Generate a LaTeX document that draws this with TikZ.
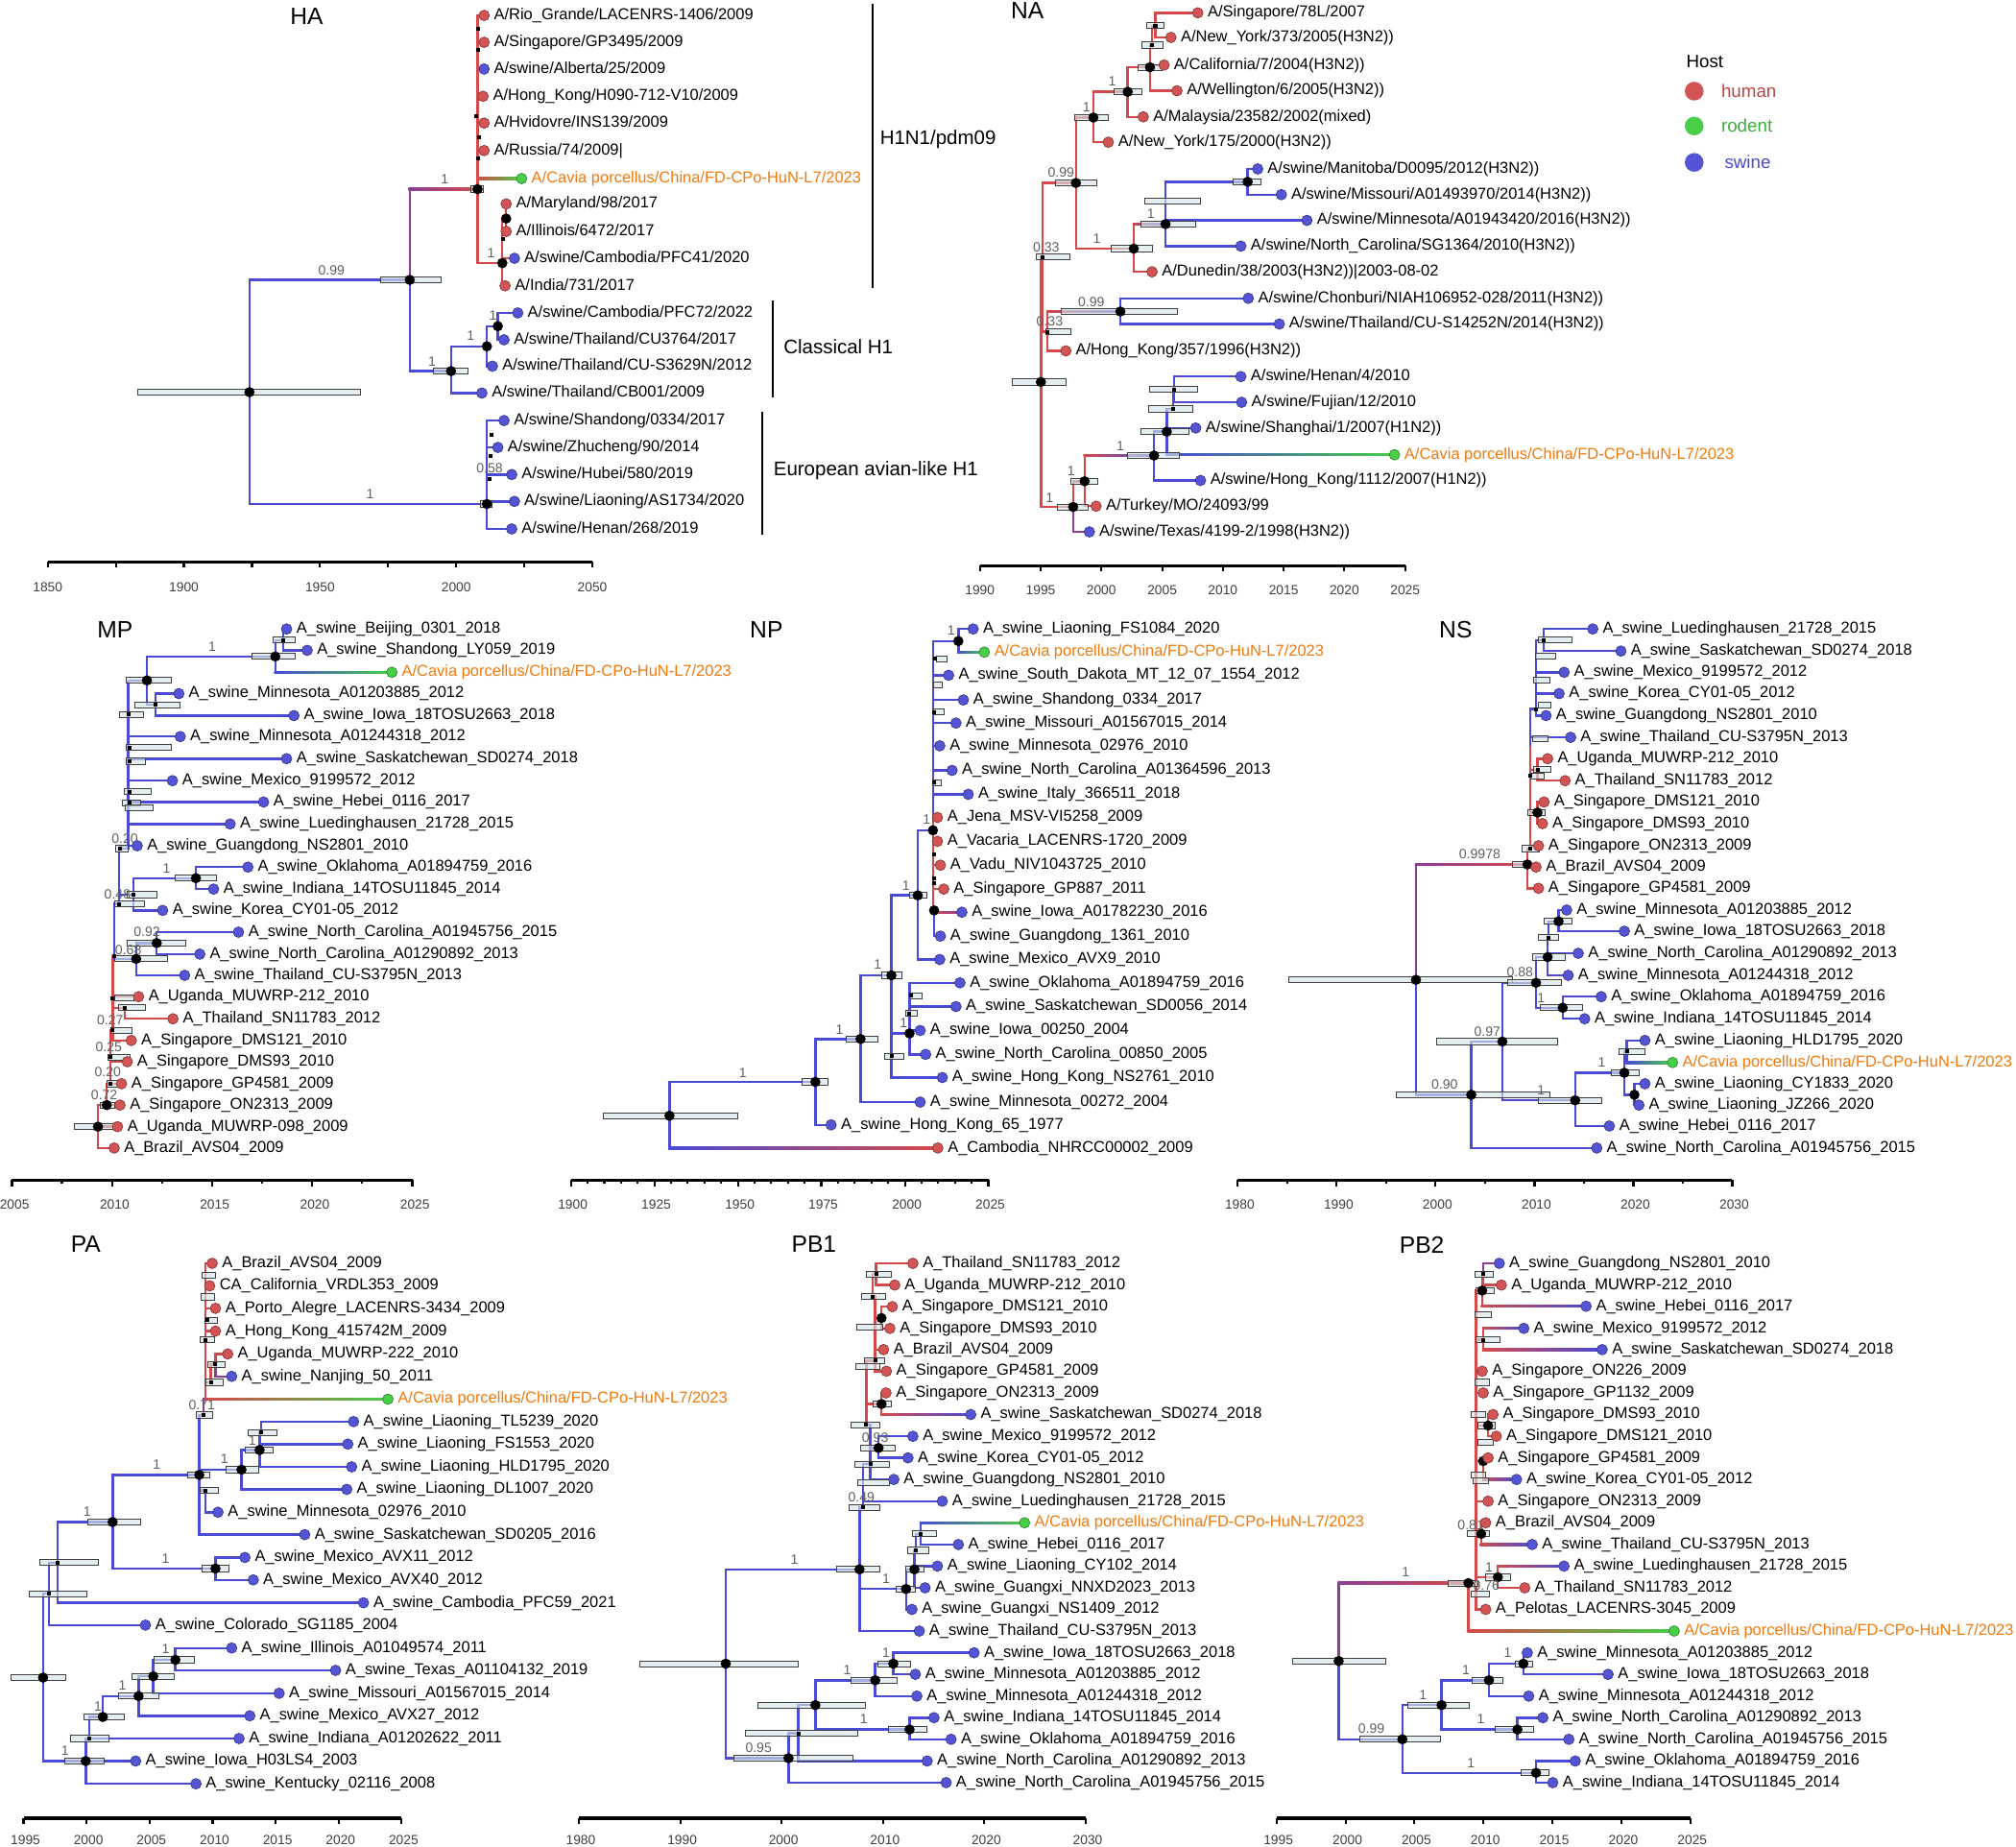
\documentclass[tikz,border=0pt]{standalone}
\usepackage{fontspec}
\setmainfont{Liberation Sans}
\usetikzlibrary{calc}
\pgfdeclarelayer{bg}
\pgfdeclarelayer{mid}
\pgfsetlayers{bg,mid,main}
\definecolor{cBl}{RGB}{74,74,212}
\definecolor{cRd}{RGB}{212,74,74}
\definecolor{cPu}{RGB}{140,62,150}
\definecolor{cGr}{RGB}{70,205,70}
\definecolor{dHu}{RGB}{210,84,84}
\definecolor{dSw}{RGB}{84,84,212}
\definecolor{dRo}{RGB}{72,206,72}
\definecolor{cOr}{RGB}{240,122,14}
\definecolor{cBar}{RGB}{214,228,232}
\newcommand\lfont{\fontsize{12.3}{14}\selectfont}
\newcommand\sfont{\fontsize{10.5}{12}\selectfont}
\newcommand\tfont{\fontsize{18.4}{20}\selectfont}
\newcommand\cfont{\fontsize{15.3}{17}\selectfont}
\newcommand\afont{\fontsize{10.3}{12}\selectfont}
\newcommand\gfont{\fontsize{14}{16}\selectfont}
\tikzset{
 blb/.style={draw=cBl,line width=1.8pt},
 rdb/.style={draw=cRd,line width=1.8pt},
 pub/.style={draw=cPu,line width=1.8pt},
 dotb/.style={circle,inner sep=0pt,minimum size=8.2pt,line width=0.5pt},
 hu/.style={dotb,fill=dHu,draw=dHu!65!black},
 sw/.style={dotb,fill=dSw,draw=dSw!65!black},
 ro/.style={dotb,fill=dRo,draw=dRo!65!black},
 lab/.style={anchor=base west,inner sep=0pt,xshift=3.2pt,yshift=-3.3pt,font=\lfont},
 bnd/.style={circle,fill=black,inner sep=0pt,minimum size=8pt},
 snd/.style={rectangle,fill=black,inner sep=0pt,minimum size=3pt},
 hpdb/.style={draw=black!75,line width=0.7pt,fill=cBar,fill opacity=0.65},
 svl/.style={font=\sfont,text=black!62,inner sep=0pt},
 ttl/.style={font=\tfont,inner sep=0pt},
 cll/.style={font=\cfont,inner sep=0pt,anchor=west},
 axl/.style={font=\afont,text=black!75,inner sep=0pt},
 clb/.style={draw=black,line width=1.5pt},
 axb/.style={draw=black,line width=2.6pt},
 axt/.style={draw=black,line width=1.6pt},
}
\makeatletter
\newcommand\bgadd[1]{\g@addto@macro\bgcmds{#1}}
\newcommand\midadd[1]{\g@addto@macro\midcmds{#1}}
\makeatother
\newcommand\bgcmds{\fill[white] (0,0) rectangle (1568,1436);}
\newcommand\midcmds{}
\newcommand\LF[4]{\node[#3] (#1) at (#2) {}; \node[lab] at (#1.east) {#4};}
\newcommand\LFC[2]{\node[ro] (#1) at (#2) {}; \node[lab,text=cOr] at (#1.east) {A/Cavia porcellus/China/FD-CPo-HuN-L7/2023};}
\newcommand\BN[2]{\coordinate (#1) at (#2); \node[bnd] at (#1) {};}
\newcommand\SN[2]{\coordinate (#1) at (#2); \node[snd] at (#1) {};}
\newcommand\CN[2]{\coordinate (#1) at (#2);}
\newcommand\BR[3]{\bgadd{\draw[#1] (#2) |- (#3.center);}}
\newcommand\HZ[3]{\bgadd{\draw[#1] (#2|-#3.center) -- (#3.center);}}
\newcommand\GB[4]{\bgadd{\draw[line width=1.8pt,#3] (#1) -- (#1|-#2.center); \shade[left color=#3,right color=#4] ($(#1|-#2.center)+(-0.9,-0.9)$) rectangle ($(#2.center)+(0,0.9)$);}}
\newcommand\HPD[3]{\midadd{\draw[hpdb] (#1,#3-2.3) rectangle (#2,#3+2.3);}}
\newcommand\SV[2]{\node[svl] at (#1) {#2};}
\begin{document}
\begin{tikzpicture}[x=1pt,y=-1pt]
\useasboundingbox (0,0) rectangle (1568,1436);
%================ HA
\node[ttl] (tHA) at (238.5,12.9) {HA};
\BN{ha0}{194,305} \HPD{107}{280}{305}
\BN{ha1}{318.7,217.7} \HPD{296}{343}{217.7} \SV{257.8,210}{0.99}
\BR{blb}{ha0}{ha1}
\BN{ha2}{371.4,147.1} \HPD{366}{376}{147.1} \SV{346,139}{1}
\GB{ha1}{ha2}{cPu}{cRd}
\LF{ha3}{376.5,12}{hu}{A/Rio\_Grande/LACENRS-1406/2009}
\LF{ha4}{376.5,32.9}{hu}{A/Singapore/GP3495/2009}
\LF{ha5}{376.5,53.7}{sw}{A/swine/Alberta/25/2009}
\LF{ha6}{375.7,74.9}{hu}{A/Hong\_Kong/H090-712-V10/2009}
\LF{ha7}{376.5,95.7}{hu}{A/Hvidovre/INS139/2009}
\LF{ha8}{376.5,117.1}{hu}{A/Russia/74/2009|}
\LFC{ha9}{405.7,138.9}
\LF{ha10}{393.7,158.6}{hu}{A/Maryland/98/2017}
\LF{ha11}{393.7,180}{hu}{A/Illinois/6472/2017}
\LF{ha12}{400.1,200.9}{sw}{A/swine/Cambodia/PFC41/2020}
\LF{ha13}{392.8,222.3}{hu}{A/India/731/2017}
\BR{rdb}{ha2}{ha3}\BR{rdb}{ha2}{ha4}\BR{rdb}{ha2}{ha5}\BR{rdb}{ha2}{ha6}\BR{rdb}{ha2}{ha7}\BR{rdb}{ha2}{ha8}
\SN{ha2a}{371.8,22.3}\SN{ha2b}{371.8,38.6}\SN{ha2c}{370.4,90}\SN{ha2d}{372.4,107}\SN{ha2e}{371.6,122.9}
\GB{ha2}{ha9}{cRd}{cGr}
\BN{ha14}{390.7,204.6} \SV{382,196.6}{1}
\BR{rdb}{ha2}{ha14}
\BN{ha15}{393.7,170}
\BR{rdb}{ha14}{ha15}\BR{rdb}{ha15}{ha10}\BR{rdb}{ha15}{ha11}\BR{rdb}{ha14}{ha12}\BR{rdb}{ha14}{ha13}
\SN{ha16}{391.3,186}
\BN{ha20}{350.8,288.6} \HPD{337}{363.7}{288.6} \SV{336,281}{1}
\BR{blb}{ha1}{ha20}
\LF{ha21}{374.8,305.7}{sw}{A/swine/Thailand/CB001/2009}
\BR{blb}{ha20}{ha21}
\BN{ha22}{378.7,269.4} \SV{366,261}{1}
\BR{blb}{ha20}{ha22}
\LF{ha23}{383,284.8}{sw}{A/swine/Thailand/CU-S3629N/2012}
\BR{blb}{ha22}{ha23}
\BN{ha24}{387.2,253.7} \SV{383.4,245.7}{1}
\BR{blb}{ha22}{ha24}
\LF{ha25}{402.7,243.4}{sw}{A/swine/Cambodia/PFC72/2022}
\LF{ha26}{392,264.3}{sw}{A/swine/Thailand/CU3764/2017}
\BR{blb}{ha24}{ha25}\BR{blb}{ha24}{ha26}
\BN{ha30}{378.7,392} \HPD{374}{383}{392} \SV{287.8,384.3}{1}
\BR{blb}{ha0}{ha30}
\LF{ha31}{392,327.1}{sw}{A/swine/Shandong/0334/2017}
\LF{ha32}{387.2,348}{sw}{A/swine/Zhucheng/90/2014}
\LF{ha33}{398,369.1}{sw}{A/swine/Hubei/580/2019}
\LF{ha34}{400.1,390}{sw}{A/swine/Liaoning/AS1734/2020}
\LF{ha35}{398,411.4}{sw}{A/swine/Henan/268/2019}
\BR{blb}{ha30}{ha31}\BR{blb}{ha30}{ha32}\BR{blb}{ha30}{ha33}\BR{blb}{ha30}{ha34}\BR{blb}{ha30}{ha35}
\SN{ha36}{382,338.5}\SN{ha37}{381.6,354.3}\SN{ha38}{380.8,372.9}
\SV{380.8,364.3}{0.58}
\draw[clb] (678.7,2.9) coordinate (cl1a) -- (678.7,224.3) coordinate (cl1b);
\node[cll] (c1) at (684.3,108.6) {H1N1/pdm09};
\draw[clb] (600.7,233.7) coordinate (cl2a) -- (600.7,309.1) coordinate (cl2b);
\node[cll] (c2) at (609.3,270) {Classical H1};
\draw[clb] (593,320.6) coordinate (cl3a) -- (593,415.7) coordinate (cl3b);
\node[cll] (c3) at (601.5,366.3) {European avian-like H1};
\draw[axb] (37.1,437) -- (460.7,437);
\foreach \x in {37.1,90.05,143,196,248.9,301.9,354.8,407.7,460.7} \draw[axt] (\x,437) -- (\x,441.5);
\foreach \x/\t in {37.1/1850,143/1900,248.9/1950,354.8/2000,460.7/2050} \node[axl] at (\x,457) {\t};
%================ NA
\node[ttl] (tNA) at (799.1,8) {NA};
\BN{na0}{809.6,297.1} \HPD{787.6}{829.5}{297.1}
\SN{na1}{811,200} \HPD{806}{832}{200} \SV{813.7,192.3}{0.33}
\BR{rdb}{na0}{na1}
\BN{na2}{836.8,142.3} \HPD{821}{853}{142.3} \SV{825.3,134.3}{0.99}
\BR{rdb}{na1}{na2}
\BN{na3}{850.4,91.4} \HPD{836}{862}{91.4} \SV{845,83.4}{1}
\BR{rdb}{na2}{na3}
\LF{na4}{862,110.6}{hu}{A/New\_York/175/2000(H3N2))}
\BR{rdb}{na3}{na4}
\BN{na5}{877.1,71.4} \HPD{866.1}{888.1}{71.4} \SV{865,63.4}{1}
\BR{rdb}{na3}{na5}
\LF{na6}{889.2,90.9}{hu}{A/Malaysia/23582/2002(mixed)}
\BR{rdb}{na5}{na6}
\BN{na7}{894.4,52.3} \HPD{885.5}{903.8}{52.3}
\BR{rdb}{na5}{na7}
\LF{na8}{915.4,70.6}{hu}{A/Wellington/6/2005(H3N2))}
\LF{na9}{905.4,50.6}{hu}{A/California/7/2004(H3N2))}
\BR{rdb}{na7}{na8}\BR{rdb}{na7}{na9}
\SN{na10}{896,35.1} \HPD{888.1}{904.3}{35.1}
\BR{rdb}{na7}{na10}
\SN{na11}{898.6,20} \HPD{892}{905}{20}
\BR{rdb}{na10}{na11}
\LF{na12}{931.6,10}{hu}{A/Singapore/78L/2007}
\LF{na13}{910.7,29.1}{hu}{A/New\_York/373/2005(H3N2))}
\BR{rdb}{na11}{na12}\BR{rdb}{na11}{na13}
\BN{na14}{881.8,193.4} \HPD{864.6}{896.4}{193.4} \SV{853,185.7}{1}
\BR{rdb}{na2}{na14}
\LF{na15}{896,211.4}{hu}{A/Dunedin/38/2003(H3N2))|2003-08-02}
\BR{rdb}{na14}{na15}
\BN{na16}{906.5,174.3} \HPD{887.1}{930.1}{174.3} \SV{895,166.3}{1}
\GB{na14}{na16}{cRd}{cBl}
\LF{na17}{1016.5,171.4}{sw}{A/swine/Minnesota/A01943420/2016(H3N2))}
\LF{na18}{965.1,191.4}{sw}{A/swine/North\_Carolina/SG1364/2010(H3N2))}
\BR{blb}{na16}{na17}\BR{blb}{na16}{na18}
\HPD{890.7}{933.7}{156.6}
\BN{na19}{970.4,141.4} \HPD{959}{981}{141.4}
\BR{blb}{na16}{na19}
\LF{na20}{978.2,131.4}{sw}{A/swine/Manitoba/D0095/2012(H3N2))}
\LF{na21}{996.6,151.4}{sw}{A/swine/Missouri/A01493970/2014(H3N2))}
\BR{blb}{na19}{na20}\BR{blb}{na19}{na21}
\SN{na22}{814.8,258} \HPD{813.8}{833.2}{258} \SV{816.4,250}{0.33}
\BR{rdb}{na1}{na22}
\BN{na23}{871.4,242.3} \HPD{825.3}{916}{242.3} \SV{848.8,234.8}{0.99}
\GB{na22}{na23}{cRd}{cBl}
\LF{na24}{970.9,232}{sw}{A/swine/Chonburi/NIAH106952-028/2011(H3N2))}
\LF{na25}{995,252}{sw}{A/swine/Thailand/CU-S14252N/2014(H3N2))}
\BR{blb}{na23}{na24}\BR{blb}{na23}{na25}
\LF{na26}{829,272.9}{hu}{A/Hong\_Kong/357/1996(H3N2))}
\BR{rdb}{na22}{na26}
\BN{na30}{834.7,394.3} \HPD{822.7}{846.2}{394.3} \SV{816.4,387.1}{1}
\BR{rdb}{na0}{na30}
\LF{na31}{847.3,413.7}{sw}{A/swine/Texas/4199-2/1998(H3N2))}
\BR{pub}{na30}{na31}
\BN{na32}{843.6,374.3} \HPD{833.1}{854}{374.3} \SV{833.1,366.6}{1}
\BR{rdb}{na30}{na32}
\LF{na33}{852.5,393.7}{hu}{A/Turkey/MO/24093/99}
\BR{rdb}{na32}{na33}
\BN{na34}{897.6,354.3} \HPD{876.6}{916.9}{354.3} \SV{871.4,347.1}{1}
\GB{na32}{na34}{cRd}{cBl}
\LF{na35}{933.7,373.7}{sw}{A/swine/Hong\_Kong/1112/2007(H1N2))}
\BR{blb}{na34}{na35}
\BN{na36}{907.5,335.7} \HPD{887.1}{924.8}{335.7}
\BR{blb}{na34}{na36}
\LFC{na37}{1084.6,353.7}
\GB{na36}{na37}{cBl}{cGr}
\LF{na38}{930,332.9}{sw}{A/swine/Shanghai/1/2007(H1N2))}
\BR{blb}{na36}{na38}
\SN{na39}{912.2,318} \HPD{893.4}{927.4}{318}
\BR{blb}{na36}{na39}
\SN{na40}{913.3,302.9} \HPD{894.4}{931.6}{302.9}
\BR{blb}{na39}{na40}
\LF{na41}{965.1,292.9}{sw}{A/swine/Henan/4/2010}
\LF{na42}{965.7,312.9}{sw}{A/swine/Fujian/12/2010}
\BR{blb}{na40}{na41}\BR{blb}{na40}{na42}
\draw[axb] (762.1,440) -- (1092.9,440);
\foreach \x/\t in {762.1/1990,809.4/1995,856.6/2000,903.9/2005,951.1/2010,998.4/2015,1045.6/2020,1092.9/2025} {\draw[axt] (\x,440) -- (\x,444.5); \node[axl] at (\x,459) {\t};}
% legend
\node[font=\gfont,anchor=west,inner sep=0pt] (lgH) at (1311.4,48) {Host};
\node[circle,inner sep=0pt,minimum size=14.6pt,fill=dHu] (lg1) at (1317.7,70.9) {};
\node[circle,inner sep=0pt,minimum size=14.6pt,fill=dRo] (lg2) at (1317.7,98) {};
\node[circle,inner sep=0pt,minimum size=14.6pt,fill=dSw] (lg3) at (1317.7,126.3) {};
\node[font=\gfont,anchor=west,inner sep=0pt,text=cRd!90!black] (lt1) at (1338.6,70.9) {human};
\node[font=\gfont,anchor=west,inner sep=0pt,text=cGr!85!black] (lt2) at (1338.6,98) {rodent};
\node[font=\gfont,anchor=west,inner sep=0pt,text=cBl] (lt3) at (1341.2,126.3) {swine};
%================ MP
\node[ttl] (tMP) at (89.5,490) {MP};
\BN{mp0}{76.2,876.3} \HPD{57.9}{91.4}{876.3}
\LF{mp25}{88.8,892.9}{hu}{A\_Brazil\_AVS04\_2009}
\LF{mp24}{91.4,876.3}{hu}{A\_Uganda\_MUWRP-098\_2009}
\BR{rdb}{mp0}{mp25}\BR{rdb}{mp0}{mp24}
\BN{mp26}{83,859.5} \HPD{78}{89.5}{859.5} \SV{81.1,851.5}{0.72}
\BR{rdb}{mp0}{mp26}
\LF{mp23}{93.3,859.5}{hu}{A\_Singapore\_ON2313\_2009}
\BR{rdb}{mp26}{mp23}
\SN{mp27}{85.7,842.9} \HPD{83}{95}{842.9} \SV{83.8,833.8}{0.20}
\BR{rdb}{mp26}{mp27}
\LF{mp22}{94.5,842.9}{hu}{A\_Singapore\_GP4581\_2009}
\BR{rdb}{mp27}{mp22}
\SN{mp28}{85.7,822.3} \HPD{84}{101}{822.3} \SV{84.6,814.4}{0.25}
\BR{rdb}{mp27}{mp28}
\LF{mp21}{99,825.8}{hu}{A\_Singapore\_DMS93\_2010}
\BR{rdb}{mp28}{mp21}
\SN{mp29}{87.6,801.5} \HPD{86}{103}{801.5} \SV{85.7,793.8}{0.27}
\BR{rdb}{mp28}{mp29}
\LF{mp20}{102.1,809.2}{hu}{A\_Singapore\_DMS121\_2010}
\BR{rdb}{mp29}{mp20}
\SN{mp30}{87.6,776.3} \HPD{89}{104}{776.3}
\BR{rdb}{mp29}{mp30}
\LF{mp18}{107.8,775.2}{hu}{A\_Uganda\_MUWRP-212\_2010}
\BR{rdb}{mp30}{mp18}
\SN{mp31}{97.1,783.8} \HPD{92}{113}{783.8}
\BR{rdb}{mp30}{mp31}
\LF{mp19}{134.5,792.4}{hu}{A\_Thailand\_SN11783\_2012}
\BR{rdb}{mp31}{mp19}
\SN{mp32}{88.8,743.8}
\BR{rdb}{mp30}{mp32}
\BN{mp33}{105.9,745.8} \HPD{89}{130}{745.8} \SV{99.8,738.6}{0.68}
\BR{blb}{mp32}{mp33}
\LF{mp17}{143.6,758.6}{sw}{A\_swine\_Thailand\_CU-S3795N\_2013}
\BR{blb}{mp33}{mp17}
\BN{mp34}{121.9,733.5} \HPD{98.7}{144.3}{733.5} \SV{114.3,725}{0.92}
\BR{blb}{mp33}{mp34}
\LF{mp15}{185.5,725}{sw}{A\_swine\_North\_Carolina\_A01945756\_2015}
\LF{mp16}{155.4,742.1}{sw}{A\_swine\_North\_Carolina\_A01290892\_2013}
\BR{blb}{mp34}{mp15}\BR{blb}{mp34}{mp16}
\SN{mp35}{92.6,703} \HPD{89}{112}{703} \SV{91.4,695.8}{0.48}
\BR{blb}{mp32}{mp35}
\SN{mp36}{103.6,695.8} \HPD{99}{122}{695.8}
\BR{blb}{mp35}{mp36}
\LF{mp14}{126.5,708.1}{sw}{A\_swine\_Korea\_CY01-05\_2012}
\BR{blb}{mp36}{mp14}
\BN{mp37}{152.4,683} \HPD{136}{168.4}{683} \SV{129.5,675.8}{1}
\BR{blb}{mp36}{mp37}
\LF{mp12}{192.8,674.4}{sw}{A\_swine\_Oklahoma\_A01894759\_2016}
\LF{mp13}{166.1,691.5}{sw}{A\_swine\_Indiana\_14TOSU11845\_2014}
\BR{blb}{mp37}{mp12}\BR{blb}{mp37}{mp13}
\SN{mp38}{93.3,660} \HPD{90}{100}{660} \SV{97.1,652.3}{0.20}
\BR{blb}{mp35}{mp38}
\LF{mp11}{106.7,657.8}{sw}{A\_swine\_Guangdong\_NS2801\_2010}
\BR{blb}{mp38}{mp11}
\CN{mp40}{99.8,529.2}
\bgadd{\draw[blb] (mp38) -| (mp40);}
\LF{mp6}{140.2,572.9}{sw}{A\_swine\_Minnesota\_A01244318\_2012}
\LF{mp7}{222.9,590.1}{sw}{A\_swine\_Saskatchewan\_SD0274\_2018}
\LF{mp8}{134.1,607.2}{sw}{A\_swine\_Mexico\_9199572\_2012}
\LF{mp9}{205,623.8}{sw}{A\_swine\_Hebei\_0116\_2017}
\LF{mp10}{179,640.9}{sw}{A\_swine\_Luedinghausen\_21728\_2015}
\HZ{blb}{mp40}{mp6}\HZ{blb}{mp40}{mp7}\HZ{blb}{mp40}{mp8}\HZ{blb}{mp40}{mp9}\HZ{blb}{mp40}{mp10}
\HPD{93.3}{111.6}{555.8}\HPD{98.3}{133.3}{581.5}\HPD{97.9}{113.1}{592.1}\HPD{96.4}{117.3}{615.8}\HPD{95.2}{109.3}{624.4}\HPD{97.1}{118.9}{628.1}
\SN{mp50}{100,555.8}\SN{mp51}{100.5,581.5}\SN{mp52}{100.5,592.1}\SN{mp53}{100.5,615.8}\SN{mp54}{100.5,624.4}
\BN{mp42}{114.3,529.2} \HPD{98.3}{133.3}{529.2}
\BR{blb}{mp40}{mp42}
\BN{mp43}{214.1,510.6} \HPD{196}{229.7}{510.6} \SV{165,503}{1}
\BR{blb}{mp42}{mp43}
\SN{mp44}{220.2,497.8} \HPD{212.6}{229.7}{497.8}
\BR{blb}{mp43}{mp44}
\LF{mp1}{222.9,489.2}{sw}{A\_swine\_Beijing\_0301\_2018}
\LF{mp2}{238.9,505.8}{sw}{A\_swine\_Shandong\_LY059\_2019}
\BR{blb}{mp44}{mp1}\BR{blb}{mp44}{mp2}
\LFC{mp3}{304.8,522.9}
\GB{mp43}{mp3}{cBl}{cGr}
\SN{mp45}{121.1,548.1} \HPD{104.8}{140.2}{548.1}
\BR{blb}{mp42}{mp45}
\LF{mp4}{139.1,539.5}{sw}{A\_swine\_Minnesota\_A01203885\_2012}
\LF{mp5}{228.6,556.6}{sw}{A\_swine\_Iowa\_18TOSU2663\_2018}
\BR{blb}{mp45}{mp4}\BR{blb}{mp45}{mp5}
\draw[axb] (9.3,918) -- (320.7,918);
\foreach \x in {48.2,126.1,203.9,281.8} \draw[axt] (\x,918) -- (\x,920.5);
\foreach \x/\t in {9.3/2005,87.15/2010,165/2015,242.85/2020,320.7/2025} {\draw[axt] (\x,918) -- (\x,922.5); \node[axl] at (\x+2,936.5) {\t};}
%================ NP
\node[ttl] (tNP) at (596.1,490.1) {NP};
\BN{np0}{520.7,867.8} \HPD{469.2}{574}{867.8}
\LF{np23}{729.4,892.9}{hu}{A\_Cambodia\_NHRCC00002\_2009}
\GB{np0}{np23}{cBl}{cRd}
\BN{np1}{634.2,841.5} \HPD{623.5}{644}{841.5} \SV{577.8,834.4}{1}
\BR{blb}{np0}{np1}
\LF{np22}{646.4,874.9}{sw}{A\_swine\_Hong\_Kong\_65\_1977}
\BR{blb}{np1}{np22}
\BN{np2}{669.3,808.1} \HPD{657.8}{682.6}{808.1} \SV{652.9,800.6}{1}
\BR{blb}{np1}{np2}
\LF{np21}{715.7,857.2}{sw}{A\_swine\_Minnesota\_00272\_2004}
\BR{blb}{np2}{np21}
\BN{np3}{693.3,758.6} \HPD{685.6}{701.6}{758.6} \SV{682.6,750}{1}
\BR{blb}{np2}{np3}
\LF{np20}{732.9,838.1}{sw}{A\_swine\_Hong\_Kong\_NS2761\_2010}
\BR{blb}{np3}{np20}
\SN{np4}{693.3,821.5} \HPD{688.3}{703}{821.5}
\BN{np5}{707.4,803.8} \SV{702.8,795.8}{1}
\BR{blb}{np3}{np5}
\LF{np16}{746.6,764.4}{sw}{A\_swine\_Oklahoma\_A01894759\_2016}
\LF{np17}{743.5,782.9}{sw}{A\_swine\_Saskatchewan\_SD0056\_2014}
\LF{np18}{715.7,801.5}{sw}{A\_swine\_Iowa\_00250\_2004}
\LF{np19}{719.9,820.1}{sw}{A\_swine\_North\_Carolina\_00850\_2005}
\BR{blb}{np5}{np16}\BR{blb}{np5}{np17}\BR{blb}{np5}{np18}\BR{blb}{np5}{np19}
\HPD{707.4}{716.9}{774.4}\HPD{704.3}{713.1}{788.1}
\SN{np5a}{708.8,774.4}\SN{np5b}{707.4,788.1}
\BN{np6}{713.8,696.4} \HPD{707.4}{720.7}{696.4} \SV{704.7,688.6}{1}
\BR{blb}{np3}{np6}
\LF{np15}{730.9,746.3}{sw}{A\_swine\_Mexico\_AVX9\_2010}
\BR{blb}{np6}{np15}
\BN{np7}{725.6,645.8} \SV{720.7,637.2}{1}
\BR{blb}{np6}{np7}
\LF{np1a}{756.9,489.2}{sw}{A\_swine\_Liaoning\_FS1084\_2020}
\LFC{np2a}{765.6,507.2}
\LF{np3a}{737.8,525.2}{sw}{A\_swine\_South\_Dakota\_MT\_12\_07\_1554\_2012}
\LF{np4a}{749.3,544.4}{sw}{A\_swine\_Shandong\_0334\_2017}
\LF{np5c}{743.5,562.4}{sw}{A\_swine\_Missouri\_A01567015\_2014}
\LF{np6a}{730.9,580.1}{sw}{A\_swine\_Minnesota\_02976\_2010}
\LF{np7a}{740.5,599.2}{sw}{A\_swine\_North\_Carolina\_A01364596\_2013}
\LF{np8a}{753.1,617.8}{sw}{A\_swine\_Italy\_366511\_2018}
\BR{blb}{np7}{np3a}\BR{blb}{np7}{np4a}\BR{blb}{np7}{np5c}\BR{blb}{np7}{np6a}\BR{blb}{np7}{np7a}\BR{blb}{np7}{np8a}
\BN{np9a}{745.4,498.6} \SV{739.7,490.6}{1}
\BR{blb}{np7}{np9a}
\BR{blb}{np9a}{np1a}
\GB{np9a}{np2a}{cBl}{cGr}
\HPD{728.3}{736.7}{512.4}\HPD{726.4}{732.9}{532.9}\HPD{726.4}{734}{553.8}\HPD{726.4}{732.1}{608.6}
\SN{np7b}{727.5,512.4}\SN{np7c}{726.5,553.8}\SN{np7d}{726.2,608.6}
\LF{np14}{731.4,728.1}{sw}{A\_swine\_Guangdong\_1361\_2010}
\LF{np9}{729.1,635.8}{hu}{A\_Jena\_MSV-VI5258\_2009}
\LF{np10}{729.1,654.4}{hu}{A\_Vacaria\_LACENRS-1720\_2009}
\LF{np11}{731.4,672.9}{hu}{A\_Vadu\_NIV1043725\_2010}
\LF{np12}{734,691.5}{hu}{A\_Singapore\_GP887\_2011}
\LF{np13}{748.1,709.5}{sw}{A\_swine\_Iowa\_A01782230\_2016}
\BN{np8}{726.5,708.1}
\BR{blb}{np8}{np14}
\BR{rdb}{np7}{np8}\BR{rdb}{np7}{np9}\BR{rdb}{np7}{np10}\BR{rdb}{np7}{np11}\BR{rdb}{np7}{np12}
\GB{np8}{np13}{cRd}{cPu}
\SN{np7e}{726.5,664.4}\SN{np7f}{726.5,682.9}\SN{np7g}{726.5,687.2}
\draw[axb] (444,918) -- (768.7,918);
\foreach \x in {456.99,469.98,482.97,495.96,521.9,534.9,547.9,560.9,586.8,599.8,612.8,625.8,651.8,664.8,677.8,690.8,716.8,729.8,742.7,755.7} \draw[axt] (\x,918) -- (\x,920.5);
\foreach \x/\t in {444/1900,508.9/1925,573.9/1950,638.8/1975,703.8/2000,768.7/2025} {\draw[axt] (\x,918) -- (\x,922.5); \node[axl] at (\x+1.5,936.5) {\t};}
%================ NS
\node[ttl] (tNS) at (1132.2,490.1) {NS};
\BN{ns0}{1101.3,762.1} \HPD{1002.6}{1176.3}{762.1}
\BN{ns1}{1188,672.4} \HPD{1176.3}{1190}{672.4} \SV{1150.9,664.4}{0.9978}
\GB{ns0}{ns1}{cPu}{cRd}
\LF{ns13}{1196.6,690.9}{hu}{A\_Singapore\_GP4581\_2009}
\LF{ns12}{1194.7,674.4}{hu}{A\_Brazil\_AVS04\_2009}
\BR{rdb}{ns1}{ns13}\BR{rdb}{ns1}{ns12}
\SN{ns20}{1190,660} \HPD{1184}{1197}{660}
\BR{rdb}{ns1}{ns20}
\LF{ns11}{1196.6,657.8}{hu}{A\_Singapore\_ON2313\_2009}
\BR{rdb}{ns20}{ns11}
\BN{ns21}{1195.8,632} \HPD{1188}{1202}{632}
\BR{rdb}{ns20}{ns21}
\LF{ns9}{1200.9,623.8}{hu}{A\_Singapore\_DMS121\_2010}
\LF{ns10}{1199.7,640.6}{hu}{A\_Singapore\_DMS93\_2010}
\BR{rdb}{ns21}{ns9}\BR{rdb}{ns21}{ns10}
\SN{ns22}{1190,603} \HPD{1190.8}{1200.9}{603.8}
\BR{rdb}{ns20}{ns22}
\SN{ns23}{1195.8,598.6} \HPD{1193}{1206}{598.6}
\BR{rdb}{ns22}{ns23}
\LF{ns7}{1203.7,590.1}{hu}{A\_Uganda\_MUWRP-212\_2010}
\LF{ns8}{1217.3,607.2}{hu}{A\_Thailand\_SN11783\_2012}
\BR{rdb}{ns23}{ns7}\BR{rdb}{ns23}{ns8}
\CN{ns24}{1190,580}
\BR{rdb}{ns22}{ns24}
\HPD{1191.9}{1203.7}{574.4}
\LF{ns6}{1221.6,573.5}{sw}{A\_swine\_Thailand\_CU-S3795N\_2013}
\BR{blb}{ns24}{ns6}
\SN{ns25}{1194.7,551.5}
\BR{blb}{ns24}{ns25}
\LF{ns5}{1202.5,556.6}{sw}{A\_swine\_Guangdong\_NS2801\_2010}
\LF{ns4}{1212.6,539.5}{sw}{A\_swine\_Korea\_CY01-05\_2012}
\LF{ns3}{1216.5,522.9}{sw}{A\_swine\_Mexico\_9199572\_2012}
\BR{blb}{ns25}{ns5}\BR{blb}{ns25}{ns4}\BR{blb}{ns25}{ns3}
\SN{ns28}{1200.5,497.8} \HPD{1196.6}{1222.4}{497.8}
\BR{blb}{ns25}{ns28}
\LF{ns1a}{1238.8,489.2}{sw}{A\_swine\_Luedinghausen\_21728\_2015}
\LF{ns2a}{1260.7,506.4}{sw}{A\_swine\_Saskatchewan\_SD0274\_2018}
\BR{blb}{ns28}{ns1a}\BR{blb}{ns28}{ns2a}
\HPD{1193.9}{1210.3}{510.6}\HPD{1192.7}{1205.6}{529.2}\HPD{1196.6}{1206.4}{548.1}
\BN{ns30}{1144.3,851.5} \HPD{1085.7}{1205.6}{851.5} \SV{1123.6,843.8}{0.90}
\BR{blb}{ns0}{ns30}
\LF{ns25a}{1241.9,892.9}{sw}{A\_swine\_North\_Carolina\_A01945756\_2015}
\BR{blb}{ns30}{ns25a}
\BN{ns31}{1168.5,810.1} \HPD{1117.7}{1211.5}{810.1} \SV{1156.8,802.4}{0.97}
\BR{blb}{ns30}{ns31}
\BN{ns32}{1194.7,764.4} \HPD{1172.4}{1214.2}{764.4} \SV{1182.2,756.4}{0.88}
\BR{blb}{ns31}{ns32}
\BN{ns33}{1203.7,744.4} \HPD{1192}{1217.3}{744.4}
\BR{blb}{ns32}{ns33}
\LF{ns17}{1219.7,758.6}{sw}{A\_swine\_Minnesota\_A01244318\_2012}
\LF{ns16}{1227.5,741.5}{sw}{A\_swine\_North\_Carolina\_A01290892\_2013}
\BR{blb}{ns33}{ns17}\BR{blb}{ns33}{ns16}
\SN{ns34}{1204.4,729.2} \HPD{1196.6}{1212.2}{729.2}
\BR{blb}{ns33}{ns34}
\BN{ns35}{1212.2,716.6} \HPD{1201}{1222.4}{716.6}
\BR{blb}{ns34}{ns35}
\LF{ns14}{1218.5,707.8}{sw}{A\_swine\_Minnesota\_A01203885\_2012}
\LF{ns15}{1263.4,724.3}{sw}{A\_swine\_Iowa\_18TOSU2663\_2018}
\BR{blb}{ns35}{ns14}\BR{blb}{ns35}{ns15}
\BN{ns36}{1215.4,783.8} \HPD{1197.8}{1231}{783.8} \SV{1198.6,776.4}{1}
\BR{blb}{ns32}{ns36}
\LF{ns18}{1245.4,775.2}{sw}{A\_swine\_Oklahoma\_A01894759\_2016}
\LF{ns19}{1232.5,792.4}{sw}{A\_swine\_Indiana\_14TOSU11845\_2014}
\BR{blb}{ns36}{ns18}\BR{blb}{ns36}{ns19}
\BN{ns37}{1225.1,855.8} \HPD{1196.6}{1245.8}{855.8} \SV{1198.6,847.8}{1}
\BR{blb}{ns31}{ns37}
\LF{ns24a}{1251.7,875.8}{sw}{A\_swine\_Hebei\_0116\_2017}
\BR{blb}{ns37}{ns24a}
\BN{ns38}{1263.4,834.4} \HPD{1253.6}{1275.1}{834.4} \SV{1245.8,826.4}{1}
\BR{blb}{ns37}{ns38}
\SN{ns39}{1265.3,817.8} \HPD{1259.5}{1279}{817.8}
\BR{blb}{ns38}{ns39}
\LF{ns20a}{1279.4,809.2}{sw}{A\_swine\_Liaoning\_HLD1795\_2020}
\BR{blb}{ns39}{ns20a}
\LFC{ns21a}{1300.9,826.4}
\GB{ns39}{ns21a}{cBl}{cGr}
\BN{ns40}{1271.2,851.5}
\BR{blb}{ns38}{ns40}
\LF{ns22a}{1279.4,842.9}{sw}{A\_swine\_Liaoning\_CY1833\_2020}
\LF{ns23a}{1274.7,859.5}{sw}{A\_swine\_Liaoning\_JZ266\_2020}
\BR{blb}{ns40}{ns22a}\BR{blb}{ns40}{ns23a}
\draw[axb] (962.7,918) -- (1347.3,918);
\foreach \x in {1001.2,1078.1,1155,1231.9,1308.9} \draw[axt] (\x,918) -- (\x,920.5);
\foreach \x/\t in {962.7/1980,1039.6/1990,1116.5/2000,1193.5/2010,1270.4/2020,1347.3/2030} {\draw[axt] (\x,918) -- (\x,922.5); \node[axl] at (\x+1.5,936.5) {\t};}
%================ PA
\node[ttl] (tPA) at (66.7,968) {PA};
\BN{pa0}{33.5,1304.8} \HPD{8.4}{51.4}{1304.8}
\SN{pa1}{38.1,1239.5} \HPD{22.9}{67.4}{1239.5}
\BR{blb}{pa0}{pa1}
\LF{pa17}{113.1,1264}{sw}{A\_swine\_Colorado\_SG1185\_2004}
\BR{blb}{pa1}{pa17}
\SN{pa2}{45,1215.4} \HPD{31.2}{76.2}{1215.4}
\BR{blb}{pa1}{pa2}
\LF{pa16}{282.7,1246.6}{sw}{A\_swine\_Cambodia\_PFC59\_2021}
\BR{blb}{pa2}{pa16}
\BN{pa3}{87.6,1183.8} \HPD{68.6}{109.3}{1183.8} \SV{67.8,1175.5}{1}
\BR{blb}{pa2}{pa3}
\BN{pa4}{167.6,1220} \HPD{157.3}{178.3}{1220} \SV{128.8,1212.3}{1}
\BR{blb}{pa3}{pa4}
\LF{pa14}{190.5,1211.4}{sw}{A\_swine\_Mexico\_AVX11\_2012}
\LF{pa15}{197,1228.8}{sw}{A\_swine\_Mexico\_AVX40\_2012}
\BR{blb}{pa4}{pa14}\BR{blb}{pa4}{pa15}
\BN{pa5}{155,1147.1} \HPD{145.9}{163.1}{1147.1} \SV{121.9,1139.4}{1}
\BR{blb}{pa3}{pa5}
\LF{pa13}{237,1193.6}{sw}{A\_swine\_Saskatchewan\_SD0205\_2016}
\BR{blb}{pa5}{pa13}
\SN{pa6}{160,1159.3} \HPD{155.4}{169.5}{1159.3}
\BR{blb}{pa5}{pa6}
\LF{pa12}{169.5,1176.2}{sw}{A\_swine\_Minnesota\_02976\_2010}
\BR{blb}{pa6}{pa12}
\BN{pa7}{187.8,1143.1} \HPD{176}{201.1}{1143.1} \SV{174.5,1134.8}{1}
\BR{blb}{pa5}{pa7}
\LF{pa11}{269.7,1158.4}{sw}{A\_swine\_Liaoning\_DL1007\_2020}
\BR{blb}{pa7}{pa11}
\BN{pa8}{201.9,1127.8} \HPD{190.5}{212.6}{1127.8} \SV{196.2,1120.4}{1}
\BR{blb}{pa7}{pa8}
\LF{pa10}{273.5,1140.9}{sw}{A\_swine\_Liaoning\_HLD1795\_2020}
\LF{pa9}{270.5,1123.2}{sw}{A\_swine\_Liaoning\_FS1553\_2020}
\BR{blb}{pa8}{pa10}\BR{blb}{pa8}{pa9}
\SN{pa8b}{203,1114.3} \HPD{192.8}{215.2}{1114.3}
\BR{blb}{pa8}{pa8b}
\LF{pa8a}{275,1105.7}{sw}{A\_swine\_Liaoning\_TL5239\_2020}
\BR{blb}{pa8b}{pa8a}
\SN{pa20}{158.1,1100.5} \HPD{152.4}{165}{1100.5} \SV{157,1092.6}{0.71}
\BR{blb}{pa5}{pa20}
\CN{pa21}{160,1088.3}
\BR{pub}{pa20}{pa21}
\LFC{pa7c}{301.7,1088.3}
\GB{pa21}{pa7c}{cRd}{cGr}
\LF{pa1r}{165,982.6}{hu}{A\_Brazil\_AVS04\_2009}
\LF{pa2r}{163.1,1000.1}{hu}{CA\_California\_VRDL353\_2009}
\LF{pa3r}{167.6,1017.6}{hu}{A\_Porto\_Alegre\_LACENRS-3434\_2009}
\LF{pa4r}{167.6,1035.3}{hu}{A\_Hong\_Kong\_415742M\_2009}
\BR{rdb}{pa21}{pa1r}\BR{rdb}{pa21}{pa2r}\BR{rdb}{pa21}{pa3r}\BR{rdb}{pa21}{pa4r}
\SN{pa5r}{164,1075.1} \HPD{160}{173.7}{1075.1}
\BR{rdb}{pa21}{pa5r}
\SN{pa6r}{167.6,1061.3} \HPD{161.9}{175.2}{1061.3}
\BR{rdb}{pa5r}{pa6r}
\LF{pa7r}{177.1,1053.1}{hu}{A\_Uganda\_MUWRP-222\_2010}
\LF{pa8r}{180.2,1070.5}{sw}{A\_swine\_Nanjing\_50\_2011}
\BR{rdb}{pa6r}{pa7r}\BR{pub}{pa6r}{pa8r}
\HPD{157.3}{167.6}{991.8}\HPD{156.2}{166.9}{1008.7}\HPD{159.2}{168.8}{1026.7}\HPD{155.4}{166.5}{1042}
\SN{pa9r}{160,1042}\SN{pa10r}{161,1026.7}
\BN{pa30}{66.7,1369.7} \HPD{50.7}{80.8}{1369.7} \SV{50.7,1361.4}{1}
\BR{blb}{pa0}{pa30}
\LF{pa23}{105.5,1369.7}{sw}{A\_swine\_Iowa\_H03LS4\_2003}
\LF{pa24}{152.4,1387.4}{sw}{A\_swine\_Kentucky\_02116\_2008}
\BR{blb}{pa30}{pa23}\BR{blb}{pa30}{pa24}
\SN{pa31}{69.3,1352.2} \HPD{55.2}{84.6}{1352.2}
\BR{blb}{pa30}{pa31}
\LF{pa22}{185.9,1352.2}{sw}{A\_swine\_Indiana\_A01202622\_2011}
\BR{blb}{pa31}{pa22}
\BN{pa32}{80,1335.4} \HPD{65.5}{96.4}{1335.4} \SV{76.2,1327.1}{1}
\BR{blb}{pa31}{pa32}
\BN{pa33}{107.8,1319.2} \HPD{92.2}{123.8}{1319.2} \SV{95.2,1310.9}{1}
\BR{blb}{pa32}{pa33}
\LF{pa21m}{194.3,1334.5}{sw}{A\_swine\_Mexico\_AVX27\_2012}
\BR{blb}{pa33}{pa21m}
\BN{pa34}{119.2,1303.8} \HPD{102.9}{135.2}{1303.8}
\BR{blb}{pa33}{pa34}
\LF{pa20m}{217.1,1317}{sw}{A\_swine\_Missouri\_A01567015\_2014}
\BR{blb}{pa34}{pa20m}
\BN{pa35}{136.4,1291} \HPD{120}{151.2}{1291} \SV{128.8,1282.7}{1}
\BR{blb}{pa34}{pa35}
\LF{pa18}{180.2,1281.8}{sw}{A\_swine\_Illinois\_A01049574\_2011}
\LF{pa19}{261,1299.2}{sw}{A\_swine\_Texas\_A01104132\_2019}
\BR{blb}{pa35}{pa18}\BR{blb}{pa35}{pa19}
\draw[axb] (18.3,1414.1) -- (312.4,1414.1);
\foreach \x/\t in {18.3/1995,67.3/2000,116.3/2005,165.4/2010,214.4/2015,263.4/2020,312.4/2025} {\draw[axt] (\x,1414.1) -- (\x,1418.6); \node[axl] at (\x+1.5,1431.2) {\t};}
%================ PB1
\node[ttl] (tPB1) at (633.1,968) {PB1};
\BN{pb0}{564.5,1294} \HPD{497.8}{620.9}{1294}
\BN{pb1}{668.5,1220.6} \HPD{651}{684.5}{1220.6} \SV{617.8,1212.9}{1}
\BR{blb}{pb0}{pb1}
\LF{pb18}{715,1268.6}{sw}{A\_swine\_Thailand\_CU-S3795N\_2013}
\BR{blb}{pb1}{pb18}
\BN{pb2}{704.7,1235.9} \HPD{697}{712}{1235.9} \SV{689.1,1228.2}{1}
\BR{blb}{pb1}{pb2}
\LF{pb17}{709.3,1251.8}{sw}{A\_swine\_Guangxi\_NS1409\_2012}
\BR{blb}{pb2}{pb17}
\BN{pb3}{711.2,1220.6} \HPD{704.3}{718.8}{1220.6}
\BR{blb}{pb2}{pb3}
\LF{pb15}{729.1,1218.1}{sw}{A\_swine\_Liaoning\_CY102\_2014}
\LF{pb16}{719.5,1235}{sw}{A\_swine\_Guangxi\_NNXD2023\_2013}
\BR{blb}{pb3}{pb15}\BR{blb}{pb3}{pb16}
\SN{pb4}{712.3,1205.8} \HPD{706}{722.5}{1205.8}
\BR{blb}{pb3}{pb4}
\SN{pb5}{716.1,1193} \HPD{709.3}{728.3}{1193}
\BR{blb}{pb4}{pb5}
\LFC{pb13}{796.9,1184.4}
\GB{pb5}{pb13}{cBl}{cGr}
\LF{pb14}{745.4,1201.3}{sw}{A\_swine\_Hebei\_0116\_2017}
\BR{blb}{pb5}{pb14}
\SN{pb6}{671.2,1172.5} \HPD{660.5}{684.5}{1172.5} \SV{670,1164.8}{0.49}
\BR{blb}{pb1}{pb6}
\LF{pb12}{732.9,1167.6}{sw}{A\_swine\_Luedinghausen\_21728\_2015}
\BR{blb}{pb6}{pb12}
\SN{pb7}{676.9,1138.8} \HPD{665.2}{692}{1138.8}
\BR{blb}{pb6}{pb7}
\HPD{667.3}{692.1}{1153.2}
\LF{pb11}{695.2,1150.7}{sw}{A\_swine\_Guangdong\_NS2801\_2010}
\BR{blb}{pb7}{pb11}
\BN{pb8}{683.3,1126.2} \HPD{669.3}{696}{1126.2} \SV{680.7,1118}{0.93}
\BR{blb}{pb7}{pb8}
\LF{pb9}{710,1117.1}{sw}{A\_swine\_Mexico\_9199572\_2012}
\LF{pb10}{706.2,1133.9}{sw}{A\_swine\_Korea\_CY01-05\_2012}
\BR{blb}{pb8}{pb9}\BR{blb}{pb8}{pb10}
\SN{pb19}{673.8,1108.2} \HPD{661.6}{684.5}{1108.2}
\BR{blb}{pb7}{pb19}
\BN{pb21}{685.6,1092} \HPD{678.8}{692.9}{1092}
\BR{rdb}{pb19}{pb21}
\LF{pb7r}{689.1,1083.4}{hu}{A\_Singapore\_ON2313\_2009}
\BR{rdb}{pb21}{pb7r}
\LF{pb8r}{755,1100.2}{sw}{A\_swine\_Saskatchewan\_SD0274\_2018}
\GB{pb21}{pb8r}{cRd}{cBl}
\SN{pb22}{680.7,1058.3} \HPD{672.3}{688.3}{1058.3} \HPD{665.4}{684.5}{1062.9}
\BR{rdb}{pb19}{pb22}
\LF{pb5r}{687.2,1049.7}{hu}{A\_Brazil\_AVS04\_2009}
\LF{pb6r}{689.4,1066.5}{hu}{A\_Singapore\_GP4581\_2009}
\BR{rdb}{pb22}{pb5r}\BR{rdb}{pb22}{pb6r}
\BN{pb24}{685.6,1025.2}
\BR{rdb}{pb22}{pb24}
\LF{pb3r}{694,1016.3}{hu}{A\_Singapore\_DMS121\_2010}
\LF{pb4r}{692.1,1033.2}{hu}{A\_Singapore\_DMS93\_2010}
\BR{rdb}{pb24}{pb3r}\BR{rdb}{pb24}{pb4r}
\HPD{666.2}{686.4}{1032.2}
\SN{pb25}{678.8,1008.4} \HPD{670}{689.1}{1008.4}
\BR{rdb}{pb22}{pb25}
\SN{pb26}{681.4,990.9} \HPD{673.8}{693.3}{990.9}
\BR{rdb}{pb25}{pb26}
\LF{pb1r}{710,982.6}{hu}{A\_Thailand\_SN11783\_2012}
\LF{pb2r}{695.9,999.5}{hu}{A\_Uganda\_MUWRP-212\_2010}
\BR{rdb}{pb26}{pb1r}\BR{rdb}{pb26}{pb2r}
\BN{pb30}{613.3,1367.5} \HPD{571}{663.5}{1367.5} \SV{590,1359.3}{0.95}
\BR{blb}{pb0}{pb30}
\LF{pb25a}{735.9,1386.5}{sw}{A\_swine\_North\_Carolina\_A01945756\_2015}
\BR{blb}{pb30}{pb25a}
\SN{pb31}{620.9,1348.2} \HPD{579.7}{667.4}{1348.2}
\BR{blb}{pb30}{pb31}
\LF{pb24a}{721.1,1369.7}{sw}{A\_swine\_North\_Carolina\_A01290892\_2013}
\BR{blb}{pb31}{pb24a}
\BN{pb32}{634.2,1326.2} \HPD{589.2}{673.1}{1326.2}
\BR{blb}{pb31}{pb32}
\BN{pb33}{707.4,1345.2} \HPD{691.3}{720.7}{1345.2} \SV{671.9,1336.9}{1}
\BR{blb}{pb32}{pb33}
\LF{pb22a}{726.4,1336}{sw}{A\_swine\_Indiana\_14TOSU11845\_2014}
\LF{pb23a}{739.7,1352.8}{sw}{A\_swine\_Oklahoma\_A01894759\_2016}
\BR{blb}{pb33}{pb22a}\BR{blb}{pb33}{pb23a}
\BN{pb34}{680.7,1306.9} \HPD{661.6}{697.8}{1306.9} \SV{659,1298.6}{1}
\BR{blb}{pb32}{pb34}
\LF{pb21a}{713.1,1319.2}{sw}{A\_swine\_Minnesota\_A01244318\_2012}
\BR{blb}{pb34}{pb21a}
\BN{pb35}{694.8,1294} \HPD{682.6}{708.1}{1294} \SV{689.1,1285.8}{1}
\BR{blb}{pb34}{pb35}
\LF{pb19a}{757.6,1285.5}{sw}{A\_swine\_Iowa\_18TOSU2663\_2018}
\LF{pb20a}{711.9,1302.3}{sw}{A\_swine\_Minnesota\_A01203885\_2012}
\BR{blb}{pb35}{pb19a}\BR{blb}{pb35}{pb20a}
\draw[axb] (450.2,1414.1) -- (844.5,1414.1);
\foreach \x/\t in {450.2/1980,529.1/1990,607.9/2000,686.8/2010,765.6/2020,844.5/2030} {\draw[axt] (\x,1414.1) -- (\x,1418.6); \node[axl] at (\x+1.5,1431.2) {\t};}
%================ PB2
\node[ttl] (tPB2) at (1105.9,968) {PB2};
\BN{pc0}{1041.2,1291.9} \HPD{1005}{1078}{1291.9}
\BN{pc1}{1142.1,1231.3} \HPD{1126.1}{1149.8}{1231.3} \SV{1093.4,1223}{1}
\GB{pc0}{pc1}{cPu}{cRd}
\LFC{pc18}{1302.1,1268.6}
\GB{pc1}{pc18}{cRd}{cGr}
\CN{pc2}{1148,1231.3}
\BR{rdb}{pc1}{pc2}
\LF{pc17}{1155.5,1251.8}{hu}{A\_Pelotas\_LACENRS-3045\_2009}
\BR{rdb}{pc2}{pc17}
\HPD{1144.4}{1158.1}{1239.5}
\BN{pc3}{1165,1226.7} \HPD{1155.5}{1174.5}{1226.7} \SV{1158.1,1219}{1}
\BR{rdb}{pc2}{pc3}
\LF{pc15}{1216.4,1218.1}{sw}{A\_swine\_Luedinghausen\_21728\_2015}
\GB{pc3}{pc15}{cRd}{cBl}
\LF{pc16}{1185.9,1235}{hu}{A\_Thailand\_SN11783\_2012}
\BR{rdb}{pc3}{pc16}
\SV{1156,1233}{0.76}
\BN{pc4}{1152,1193} \HPD{1141}{1158.1}{1193} \SV{1144,1186}{0.81}
\BR{rdb}{pc2}{pc4}
\LF{pc13}{1155.5,1184.4}{hu}{A\_Brazil\_AVS04\_2009}
\BR{rdb}{pc4}{pc13}
\LF{pc14}{1191.7,1201.3}{sw}{A\_swine\_Thailand\_CU-S3795N\_2013}
\GB{pc4}{pc14}{cRd}{cBl}
\LF{pc12}{1157.4,1167.6}{hu}{A\_Singapore\_ON2313\_2009}
\BR{rdb}{pc2}{pc12}
\BN{pc5}{1153.6,1136.4}
\BR{rdb}{pc2}{pc5}
\LF{pc10}{1157.4,1133.9}{hu}{A\_Singapore\_GP4581\_2009}
\BR{rdb}{pc5}{pc10}
\LF{pc11}{1179.5,1150.7}{sw}{A\_swine\_Korea\_CY01-05\_2012}
\GB{pc5}{pc11}{cRd}{cBl}
\HPD{1144}{1155.5}{1147.1}\HPD{1146}{1157.4}{1151.7}
\BN{pc6}{1157.4,1108.8} \HPD{1149.7}{1163.1}{1108.8}
\BR{rdb}{pc2}{pc6}
\LF{pc8}{1161.2,1100.2}{hu}{A\_Singapore\_DMS93\_2010}
\LF{pc9}{1163.8,1117.1}{hu}{A\_Singapore\_DMS121\_2010}
\BR{rdb}{pc6}{pc8}\BR{rdb}{pc6}{pc9}
\HPD{1144}{1155.5}{1100.2}\HPD{1149.7}{1161.2}{1121.7}
\LF{pc6a}{1152.8,1066.5}{hu}{A\_Singapore\_ON226\_2009}
\LF{pc7a}{1153.6,1083.4}{hu}{A\_Singapore\_GP1132\_2009}
\BR{rdb}{pc2}{pc6a}\BR{rdb}{pc2}{pc7a}
\HPD{1147.1}{1158.1}{1075.1}
\SN{pc7}{1153.6,1042} \HPD{1147.9}{1166.9}{1042}
\BR{rdb}{pc2}{pc7}
\LF{pc4a}{1185.2,1033.2}{sw}{A\_swine\_Mexico\_9199572\_2012}
\LF{pc5a}{1246.1,1049.7}{sw}{A\_swine\_Saskatchewan\_SD0274\_2018}
\GB{pc7}{pc4a}{cRd}{cBl}\GB{pc7}{pc5a}{cRd}{cBl}
\HPD{1147.1}{1160}{1022.5}
\BN{pc8n}{1152.8,1003.8} \HPD{1147.9}{1162.3}{1003.8}
\BR{rdb}{pc2}{pc8n}
\LF{pc3a}{1233.6,1016}{sw}{A\_swine\_Hebei\_0116\_2017}
\GB{pc8n}{pc3a}{cRd}{cBl}
\SN{pc9n}{1153.6,990.9} \HPD{1147.1}{1161.2}{990.9}
\BR{rdb}{pc8n}{pc9n}
\LF{pc1a}{1166.1,982.6}{sw}{A\_swine\_Guangdong\_NS2801\_2010}
\LF{pc2a}{1167.7,999.5}{hu}{A\_Uganda\_MUWRP-212\_2010}
\BR{pub}{pc9n}{pc1a}\BR{rdb}{pc9n}{pc2a}
\BN{pc30}{1090.7,1352.8} \HPD{1057.6}{1120.4}{1352.8} \SV{1066.7,1344.6}{0.99}
\BR{blb}{pc0}{pc30}
\BN{pc31}{1194.7,1378.9} \HPD{1183.3}{1205}{1378.9} \SV{1144,1371.2}{1}
\BR{blb}{pc30}{pc31}
\LF{pc24}{1225.2,1369.7}{sw}{A\_swine\_Oklahoma\_A01894759\_2016}
\LF{pc25}{1207.7,1386.5}{sw}{A\_swine\_Indiana\_14TOSU11845\_2014}
\BR{blb}{pc31}{pc24}\BR{blb}{pc31}{pc25}
\BN{pc32}{1121.2,1326.2} \HPD{1095.3}{1142.9}{1326.2} \SV{1106.7,1318.5}{1}
\BR{blb}{pc30}{pc32}
\BN{pc33}{1180.2,1345.2} \HPD{1163.1}{1192.4}{1345.2} \SV{1151.7,1336.9}{1}
\BR{blb}{pc32}{pc33}
\LF{pc22}{1200,1336}{sw}{A\_swine\_North\_Carolina\_A01290892\_2013}
\LF{pc23}{1220.2,1352.8}{sw}{A\_swine\_North\_Carolina\_A01945756\_2015}
\BR{blb}{pc33}{pc22}\BR{blb}{pc33}{pc23}
\BN{pc34}{1158.1,1306.9} \HPD{1145.2}{1168.8}{1306.9} \SV{1140.2,1298.6}{1}
\BR{blb}{pc32}{pc34}
\LF{pc21}{1189,1319.2}{sw}{A\_swine\_Minnesota\_A01244318\_2012}
\BR{blb}{pc34}{pc21}
\BN{pc35}{1184.8,1294} \HPD{1178.3}{1191.7}{1294} \SV{1172.6,1285.8}{1}
\BR{blb}{pc34}{pc35}
\LF{pc19}{1187.9,1285.5}{sw}{A\_swine\_Minnesota\_A01203885\_2012}
\LF{pc20}{1250.7,1302.3}{sw}{A\_swine\_Iowa\_18TOSU2663\_2018}
\BR{blb}{pc35}{pc19}\BR{blb}{pc35}{pc20}
\draw[axb] (992.8,1414.1) -- (1314.7,1414.1);
\foreach \x/\t in {992.8/1995,1046.5/2000,1100.1/2005,1153.8/2010,1207.4/2015,1261.1/2020,1314.7/2025} {\draw[axt] (\x,1414.1) -- (\x,1418.6); \node[axl] at (\x+1.5,1431.2) {\t};}
\begin{pgfonlayer}{bg}\bgcmds\end{pgfonlayer}
\begin{pgfonlayer}{mid}\midcmds\end{pgfonlayer}
\end{tikzpicture}
\end{document}
